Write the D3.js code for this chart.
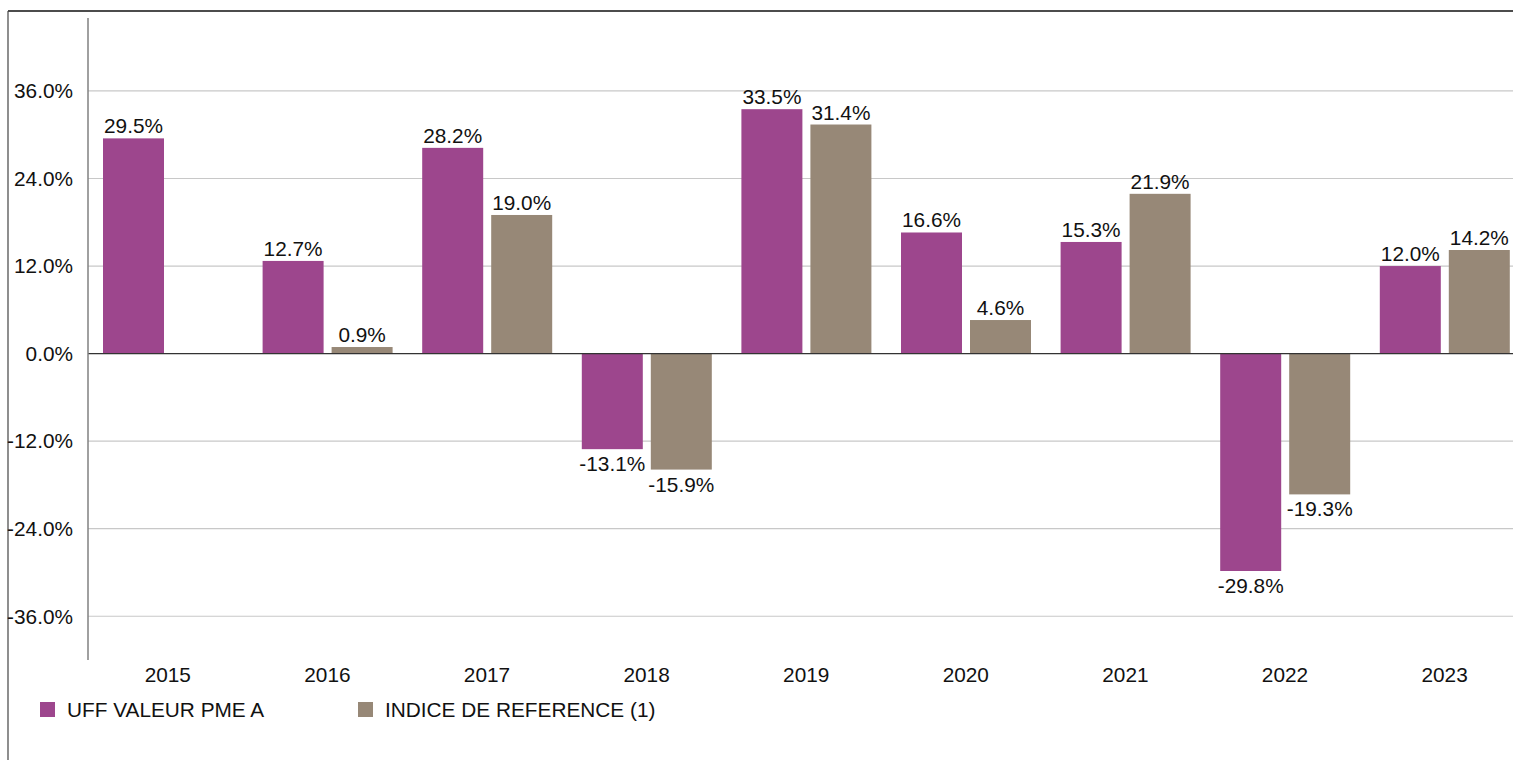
<!DOCTYPE html>
<html>
<head>
<meta charset="utf-8">
<script src="https://cdn.jsdelivr.net/npm/d3@7"></script>
<style>
  body { margin: 0; background: #fff; }
  svg { display: block; font-family: "Liberation Sans", Arial, sans-serif; }
</style>
</head>
<body>
<svg width="1513" height="760"></svg>
<script>
const years = ['2015', '2016', '2017', '2018', '2019', '2020', '2021', '2022', '2023'];
const fundValues = [29.5, 12.7, 28.2, -13.1, 33.5, 16.6, 15.3, -29.8, 12.0];
const indexValues = [null, 0.9, 19.0, -15.9, 31.4, 4.6, 21.9, -19.3, 14.2];
const yTicks = [-36, -24, -12, 0, 12, 24, 36];
const seriesNames = ['UFF VALEUR PME A', 'INDICE DE REFERENCE (1)'];
const colors = ['#9d468d', '#978877'];

const svg = d3.select('svg');
const fontSize = 20.8;

// frame
svg.append('line').attr('x1', 8).attr('x2', 1513).attr('y1', 11).attr('y2', 11)
   .attr('stroke', '#111').attr('stroke-width', 1.5);
svg.append('line').attr('x1', 8).attr('x2', 8).attr('y1', 11).attr('y2', 760)
   .attr('stroke', '#444').attr('stroke-width', 1.2);

const x = d3.scaleBand().domain(years).range([88, 88 + 9 * 159.6]);
const y = d3.scaleLinear().domain([-42, 46]).range([660, 18]);

// grid
svg.append('g').selectAll('line').data(yTicks.filter(d => d !== 0)).join('line')
   .attr('x1', 88).attr('x2', 1513)
   .attr('y1', d => y(d)).attr('y2', d => y(d))
   .attr('stroke', '#c8c8c8').attr('stroke-width', 1.2);

// y labels
svg.append('g').selectAll('text').data(yTicks).join('text')
   .attr('x', 73).attr('y', d => y(d)).attr('dy', '0.35em')
   .attr('text-anchor', 'end').attr('font-size', fontSize).attr('fill', '#111')
   .text(d => d.toFixed(1) + '%');

// x labels
svg.append('g').selectAll('text').data(years).join('text')
   .attr('x', d => x(d) + x.bandwidth() / 2).attr('y', 682)
   .attr('text-anchor', 'middle').attr('font-size', fontSize).attr('fill', '#111')
   .text(d => d);

const barW = 61;
const offsets = [15, 84];
const series = [fundValues, indexValues];

series.forEach((vals, s) => {
    const data = years.map((yr, i) => ({ yr, v: vals[i] })).filter(d => d.v !== null);
    const g = svg.append('g');
    g.selectAll('rect').data(data).join('rect')
     .attr('x', d => x(d.yr) + offsets[s])
     .attr('width', barW)
     .attr('y', d => y(Math.max(0, d.v)))
     .attr('height', d => Math.abs(y(d.v) - y(0)))
     .attr('fill', colors[s]);
    g.selectAll('text').data(data).join('text')
     .attr('x', d => x(d.yr) + offsets[s] + barW / 2)
     .attr('y', d => d.v >= 0 ? y(d.v) - 5 : y(d.v) + 22)
     .attr('text-anchor', 'middle').attr('font-size', fontSize).attr('fill', '#111')
     .text(d => d.v.toFixed(1) + '%');
});

// axis lines
svg.append('line').attr('x1', 88).attr('x2', 1513).attr('y1', y(0)).attr('y2', y(0))
   .attr('stroke', '#333').attr('stroke-width', 1.3);
svg.append('line').attr('x1', 88).attr('x2', 88).attr('y1', 18).attr('y2', 660)
   .attr('stroke', '#808080').attr('stroke-width', 1.5);

// legend
const legendX = [40, 358];
const legend = svg.append('g').selectAll('g').data(seriesNames).join('g')
   .attr('transform', (d, i) => `translate(${legendX[i]},702)`);
legend.append('rect').attr('width', 15).attr('height', 15).attr('fill', (d, i) => colors[i]);
legend.append('text').attr('x', 27).attr('y', 15).attr('font-size', fontSize).attr('fill', '#111')
   .text(d => d);
</script>
</body>
</html>
